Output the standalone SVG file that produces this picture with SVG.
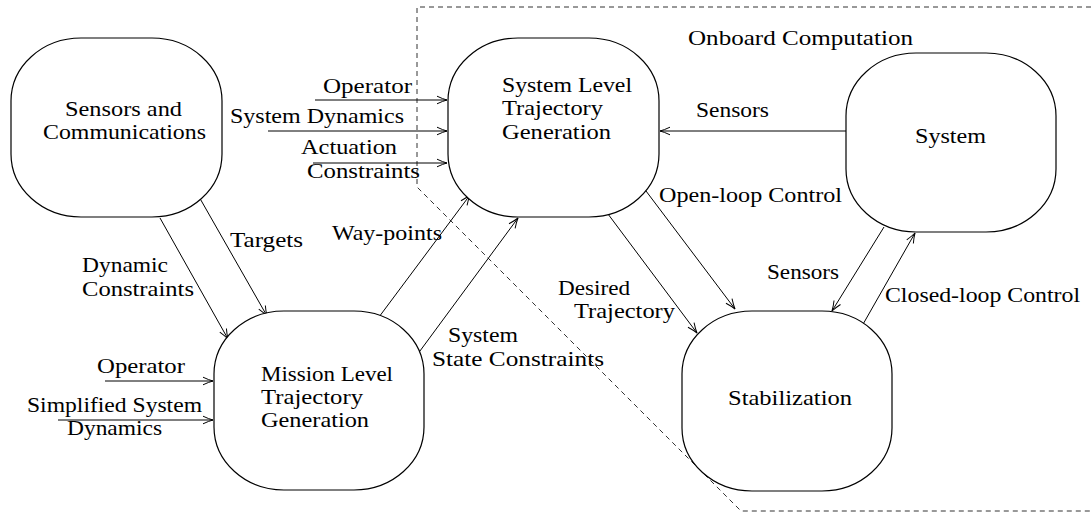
<svg xmlns="http://www.w3.org/2000/svg" width="1091" height="514" viewBox="0 0 1091 514">
<style>
.node{fill:#fff;stroke:#000;stroke-width:1.2}
text{font-family:'Liberation Serif','Times New Roman',Times,serif;font-size:22px;fill:#000}
.c{fill:none;stroke:#000;stroke-width:1;marker-end:url(#ah)}
.dash{fill:none;stroke:#333;stroke-width:1;stroke-dasharray:5,4}
</style>
<defs>
<marker id="ah" markerUnits="userSpaceOnUse" viewBox="-12 -6 14 12" markerWidth="14" markerHeight="12" refX="0" refY="0" orient="auto" overflow="visible">
<path d="M-10,-3.8 Q-4,-1 0,0 Q-4,1 -10,3.8" fill="none" stroke="#000" stroke-width="1"/>
</marker>
</defs>
<rect width="1091" height="514" fill="#fff"/>
<g id="onboard">
<path class="dash" d="M1091,7 H417 V187 L741,511 H1091"/>
<text font-family="Liberation Serif, serif" x="688" y="45" textLength="225" lengthAdjust="spacingAndGlyphs">Onboard Computation</text>
</g>
<g id="connectors" font-family="Liberation Serif, serif">
<line class="c" x1="315" y1="100" x2="447" y2="100"/>
<line class="c" x1="268" y1="131" x2="447" y2="131"/>
<line class="c" x1="313" y1="163" x2="447" y2="163"/>
<line class="c" x1="846" y1="131" x2="660" y2="131"/>
<line class="c" x1="198" y1="195" x2="267" y2="316"/>
<line class="c" x1="160" y1="218" x2="228" y2="339"/>
<line class="c" x1="379" y1="317" x2="470" y2="195"/>
<line class="c" x1="417" y1="355" x2="518" y2="218"/>
<line class="c" x1="643" y1="187" x2="735" y2="309"/>
<line class="c" x1="605" y1="210" x2="697" y2="333"/>
<line class="c" x1="884" y1="227" x2="832" y2="311"/>
<line class="c" x1="862" y1="326" x2="915" y2="233"/>
<line class="c" x1="105" y1="381" x2="213" y2="381"/>
<line class="c" x1="58" y1="420" x2="213" y2="420"/>
<text x="323" y="93" textLength="89" lengthAdjust="spacingAndGlyphs">Operator</text>
<text x="230" y="123" textLength="174" lengthAdjust="spacingAndGlyphs">System Dynamics</text>
<text x="301" y="154" textLength="96" lengthAdjust="spacingAndGlyphs">Actuation</text>
<text x="307" y="178" textLength="113" lengthAdjust="spacingAndGlyphs">Constraints</text>
<text x="696" y="117" textLength="73" lengthAdjust="spacingAndGlyphs">Sensors</text>
<text x="230" y="247" textLength="73" lengthAdjust="spacingAndGlyphs">Targets</text>
<text x="82" y="272" textLength="86" lengthAdjust="spacingAndGlyphs">Dynamic</text>
<text x="82" y="296" textLength="112" lengthAdjust="spacingAndGlyphs">Constraints</text>
<text x="332" y="240" textLength="110" lengthAdjust="spacingAndGlyphs">Way-points</text>
<text x="448" y="342" textLength="70" lengthAdjust="spacingAndGlyphs">System</text>
<text x="432" y="366" textLength="172" lengthAdjust="spacingAndGlyphs">State Constraints</text>
<text x="659" y="202" textLength="183" lengthAdjust="spacingAndGlyphs">Open-loop Control</text>
<text x="558" y="295" textLength="72" lengthAdjust="spacingAndGlyphs">Desired</text>
<text x="574" y="318" textLength="101" lengthAdjust="spacingAndGlyphs">Trajectory</text>
<text x="767" y="279" textLength="72" lengthAdjust="spacingAndGlyphs">Sensors</text>
<text x="885" y="302" textLength="195" lengthAdjust="spacingAndGlyphs">Closed-loop Control</text>
<text x="97" y="373" textLength="88" lengthAdjust="spacingAndGlyphs">Operator</text>
<text x="27" y="412" textLength="175" lengthAdjust="spacingAndGlyphs">Simplified System</text>
<text x="67" y="435" textLength="95" lengthAdjust="spacingAndGlyphs">Dynamics</text>
</g>
<g id="sensors-comm" font-family="Liberation Serif, serif">
<rect class="node" x="11" y="38" width="211" height="179" rx="70" ry="63"/>
<text x="65" y="116" textLength="117" lengthAdjust="spacingAndGlyphs">Sensors and</text>
<text x="43" y="139" textLength="163" lengthAdjust="spacingAndGlyphs">Communications</text>
</g>
<g id="system-level" font-family="Liberation Serif, serif">
<rect class="node" x="448" y="38" width="211" height="179" rx="70" ry="63"/>
<text x="502" y="92" textLength="130" lengthAdjust="spacingAndGlyphs">System Level</text>
<text x="502" y="115" textLength="101" lengthAdjust="spacingAndGlyphs">Trajectory</text>
<text x="502" y="139" textLength="109" lengthAdjust="spacingAndGlyphs">Generation</text>
</g>
<g id="system" font-family="Liberation Serif, serif">
<rect class="node" x="846" y="53" width="210" height="179" rx="70" ry="63"/>
<text x="915" y="143" textLength="71" lengthAdjust="spacingAndGlyphs">System</text>
</g>
<g id="mission-level" font-family="Liberation Serif, serif">
<rect class="node" x="214" y="311" width="210" height="179" rx="70" ry="63"/>
<text x="261" y="381" textLength="132" lengthAdjust="spacingAndGlyphs">Mission Level</text>
<text x="261" y="404" textLength="102" lengthAdjust="spacingAndGlyphs">Trajectory</text>
<text x="261" y="427" textLength="108" lengthAdjust="spacingAndGlyphs">Generation</text>
</g>
<g id="stabilization" font-family="Liberation Serif, serif">
<rect class="node" x="682" y="311" width="210" height="180" rx="70" ry="63"/>
<text x="728" y="405" textLength="124" lengthAdjust="spacingAndGlyphs">Stabilization</text>
</g>
</svg>
